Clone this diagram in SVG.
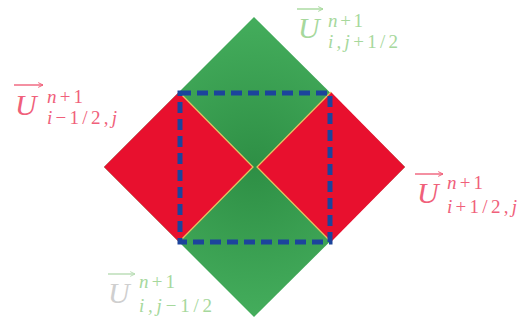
<svg xmlns="http://www.w3.org/2000/svg" width="520" height="323" viewBox="0 0 520 323">
<defs>
<radialGradient id="g" cx="254" cy="167" r="150" gradientUnits="userSpaceOnUse">
<stop offset="0" stop-color="#2e8f45"/>
<stop offset="1" stop-color="#44ad5c"/>
</radialGradient>
<marker id="ah" viewBox="0 0 10 10" refX="9" refY="5" markerWidth="6" markerHeight="6" orient="auto" markerUnits="userSpaceOnUse">
<path d="M1,1 L9,5 L1,9" fill="none" stroke="context-stroke" stroke-width="1.6"/>
</marker>
<style>
.red{fill:#e8102e}
.edge{fill:none;stroke:#e8c060;stroke-width:1.3}
.dash{fill:none;stroke:#1c449c;stroke-width:5;stroke-dasharray:11 6}
text{font-family:'Liberation Serif','DejaVu Serif',serif;font-style:italic}
.up{font-style:normal}
.big{font-size:30px}
.sm{font-size:19px}
.pink{fill:#f0607a}
.grn{fill:#a6d89c}
.gry{fill:#cfcfcf}
.vec{stroke-width:1.4}
</style>
</defs>
<g id="outer"><polygon points="254,17 405,167 254,317 104,167" fill="url(#g)"/></g>
<g id="left-red"><polygon class="red" points="104,167 179,92 253,167 179,242"/><polyline class="edge" points="179,92 253,167 179,242"/></g>
<g id="right-red"><polygon class="red" points="257,167 331,92 405,167 331,242"/><polyline class="edge" points="331,92 257,167 331,242"/></g>
<g id="connectors"><rect class="dash" x="180" y="93" width="150" height="149"/></g>
<g id="label-top" class="grn">
<line class="vec" x1="297" y1="9" x2="323" y2="9" stroke="#a6d89c" marker-end="url(#ah)"/>
<text class="big" font-family="Liberation Serif" x="298" y="38">U</text>
<text class="sm" font-family="Liberation Serif" x="328" y="27" textLength="35" lengthAdjust="spacing">n<tspan class="up">+1</tspan></text>
<text class="sm" font-family="Liberation Serif" x="328" y="48" textLength="70" lengthAdjust="spacing">i,j<tspan class="up">+1/2</tspan></text>
</g>
<g id="label-left" class="pink">
<line class="vec" x1="14" y1="85" x2="43" y2="85" stroke="#f0607a" marker-end="url(#ah)"/>
<text class="big" font-family="Liberation Serif" x="15" y="115">U</text>
<text class="sm" font-family="Liberation Serif" x="47" y="103" textLength="36" lengthAdjust="spacing">n<tspan class="up">+1</tspan></text>
<text class="sm" font-family="Liberation Serif" x="47" y="124" textLength="70" lengthAdjust="spacing">i<tspan class="up">−1/2,</tspan>j</text>
</g>
<g id="label-right" class="pink">
<line class="vec" x1="415" y1="174" x2="443" y2="174" stroke="#f0607a" marker-end="url(#ah)"/>
<text class="big" font-family="Liberation Serif" x="417" y="203">U</text>
<text class="sm" font-family="Liberation Serif" x="447" y="189" textLength="36" lengthAdjust="spacing">n<tspan class="up">+1</tspan></text>
<text class="sm" font-family="Liberation Serif" x="447" y="213" textLength="70" lengthAdjust="spacing">i<tspan class="up">+1/2,</tspan>j</text>
</g>
<g id="label-bottom">
<line class="vec" x1="108" y1="274" x2="135" y2="274" stroke="#b8dcb4" marker-end="url(#ah)"/>
<text class="big gry" font-family="Liberation Serif" x="108" y="303">U</text>
<text class="sm grn" font-family="Liberation Serif" x="139" y="288" textLength="36" lengthAdjust="spacing">n<tspan class="up">+1</tspan></text>
<text class="sm grn" font-family="Liberation Serif" x="139" y="312" textLength="73" lengthAdjust="spacing">i,j<tspan class="up">−1/2</tspan></text>
</g>
</svg>
